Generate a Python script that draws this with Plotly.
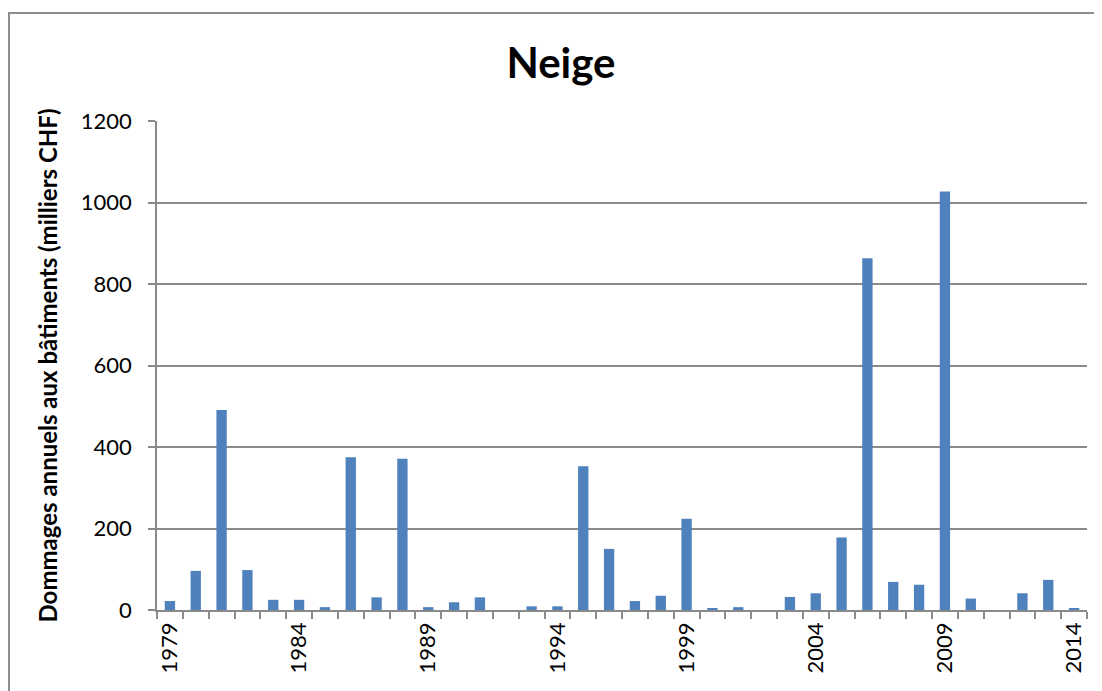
import plotly.graph_objects as go

years = list(range(1979, 2015))
damages = [22, 96, 491, 98, 25, 25, 7, 375, 31, 371, 7, 19, 31, 0, 9, 9, 353, 150,
           22, 35, 224, 4, 7, 0, 32, 41, 178, 863, 69, 62, 1027, 28, 0, 41, 74, 4]
label_years = [1979, 1984, 1989, 1994, 1999, 2004, 2009, 2014]
y_ticks = [0, 200, 400, 600, 800, 1000, 1200]

title_text = "Neige"
y_title = "Dommages annuels aux bâtiments (milliers CHF)"

FONT = "Lato"
GRID = "#8a8a8a"

# page has an 8px body margin; compensate so the plot lands where the reference has it
OFF = 8
W, H = 1102 - OFF, 691 - OFF
L, R, T, B = 157 - OFF, 15, 121 - OFF, 81
pw = W - L - R
ph = H - T - B

fig = go.Figure()
fig.add_trace(go.Bar(x=years, y=damages, marker=dict(color="#4F81BD", line=dict(width=0))))

fig.update_layout(
    width=W, height=H,
    margin=dict(l=L, r=R, t=T, b=B, pad=0),
    paper_bgcolor="white", plot_bgcolor="white",
    bargap=0.6,
    showlegend=False,
    font=dict(family=FONT, color="black"),
    title=dict(text="<b>" + title_text + "</b>", font=dict(family=FONT, size=42, color="black"),
               xref="container", yref="container", x=(561 - OFF) / W, y=1 - (63 - OFF) / H,
               xanchor="center", yanchor="middle"),
)

fig.update_xaxes(
    range=[1978.5, 2014.5],
    tickmode="array", tickvals=label_years, ticktext=[str(v) for v in label_years],
    tickangle=-90, ticks="outside", ticklen=2, tickcolor="rgba(0,0,0,0)",
    tickfont=dict(family=FONT, size=22, color="black"),
    showgrid=False, showline=True, linecolor=GRID, linewidth=1.5,
    zeroline=False,
    minor=dict(tickmode="linear", tick0=1978.5, dtick=1, ticks="outside", ticklen=7,
               tickcolor=GRID, tickwidth=1.5, showgrid=False),
)

fig.update_yaxes(
    range=[0, 1200], tickmode="array", tickvals=y_ticks,
    ticks="outside", ticklen=7, tickcolor=GRID, tickwidth=1.5,
    ticklabelstandoff=12,
    tickfont=dict(family=FONT, size=22, color="black"),
    showgrid=True, gridcolor=GRID, gridwidth=1.5,
    showline=True, linecolor=GRID, linewidth=1.5, zeroline=False,
)

fig.add_annotation(
    text="<b>" + y_title + "</b>", textangle=-90,
    xref="paper", yref="paper", x=(47 - 157) / pw, y=0.5,
    xanchor="center", yanchor="middle", showarrow=False,
    font=dict(family=FONT, size=24, color="black"),
)

fig.add_shape(
    type="rect", xref="paper", yref="paper",
    x0=(9 - 157) / pw, x1=1.05, y0=-0.3, y1=(610 - 13) / ph,
    line=dict(color="#8e8e8e", width=2), fillcolor="rgba(0,0,0,0)", layer="below",
)

fig.write_html("out.html")
